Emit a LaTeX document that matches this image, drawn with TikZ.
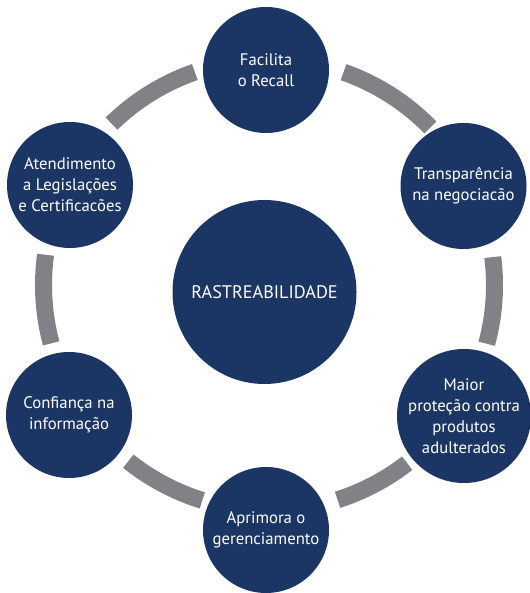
\documentclass[tikz,border=0pt]{standalone}
\usepackage{fontspec}
\setmainfont{PT Sans}
\usetikzlibrary{calc}
\definecolor{navy}{RGB}{27,54,101}
\definecolor{ringgray}{RGB}{128,130,134}
\tikzset{
  bub/.style={circle, fill=navy, draw=none, inner sep=0pt, minimum size=126pt,
    text=white, align=center, font=\fontsize{16.7}{21}\selectfont},
  hubnode/.style={bub, minimum size=184pt, font=\fontsize{18.2}{22}\selectfont},
  ringarc/.style={draw=ringgray, line width=17pt, line cap=butt}
}
\begin{document}
\begin{tikzpicture}[x=1pt,y=1pt]
  \useasboundingbox (0,0) rectangle (529,593);
  % centre of the grey ring
  \coordinate (ringc) at (269,308);
  % grey ring segments between the satellite circles
  \foreach \a/\b in {44.3/70.7, 109.2/134.3, 172.3/195, 231.4/252.8, 287.7/307.8, -15.1/7.1}{
    \draw[ringarc] ($(ringc)+(\a:225.5)$) arc[start angle=\a, end angle=\b, radius=225.5];
  }
  % central hub
  \node[hubnode] (hub) at (264.5,301) {RASTREABILIDADE};
  % satellites
  \node[bub] (recall) at (266,523) {Facilita\\o Recall};
  \node[bub] (transp) at (463.5,407) {Transparência\\na negociacão};
  \node[bub] (protec) at (464,177) {Maior\\proteção contra\\produtos\\adulterados};
  \node[bub] (gerenc) at (266,63) {Aprimora o\\gerenciamento};
  \node[bub] (confia) at (69,178) {Confiança na\\informação};
  \node[bub] (legisl) at (70,408) {Atendimento\\a Legislações\\e Certificacões};
\end{tikzpicture}
\end{document}
